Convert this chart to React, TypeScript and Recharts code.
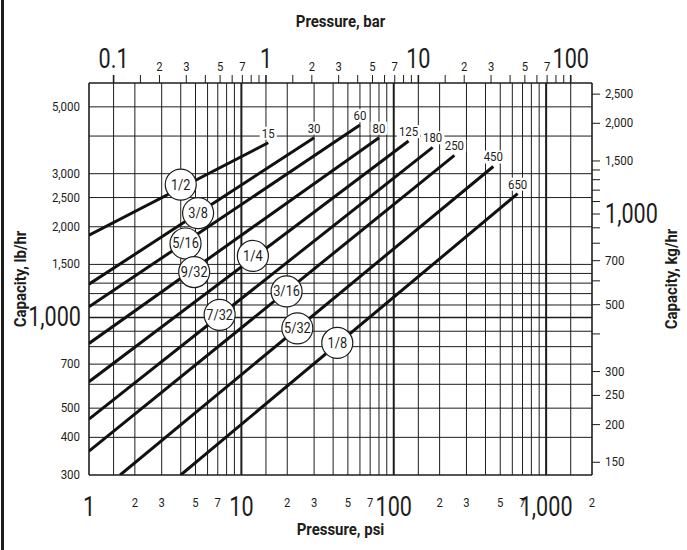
import React from "react";
import {
  ComposedChart,
  Line,
  XAxis,
  YAxis,
  ReferenceLine,
  ReferenceDot,
  Label,
} from "recharts";

const FONT = "Roboto, 'Liberation Sans', sans-serif";
const INK = "#1d1d1b";
const PSI_PER_BAR = 14.5;
const KG_PER_LB = 0.4536;

// orifice lines: start point, end point (max pressure) and badge position
const orifices = ["1/2", "3/8", "5/16", "9/32", "1/4", "7/32", "3/16", "5/32", "1/8"];
const startPsi = [1, 1, 1, 1, 1, 1, 1, 1.6, 4];
const startCap = [1875, 1290, 1085, 820, 612, 460, 360, 300, 300];
const maxPsi = [15, 30, 60, 80, 125, 180, 250, 450, 650];
const endCap = [3800, 3950, 4350, 3950, 3850, 3670, 3450, 3170, 2575];
const badgePsi = [4.0, 5.2, 4.3, 4.9, 11.9, 7.2, 19.8, 23.3, 42.6];
const badgeCap = [2760, 2220, 1760, 1415, 1600, 1020, 1220, 920, 823];

// grid
const psiGrid = [
  2, 3, 4, 5, 6, 7, 8, 9, 10, 20, 30, 40, 50, 60, 70, 80, 90, 100, 200, 300,
  400, 500, 600, 700, 800, 900, 1000,
];
const psiHeavy = [10, 100, 1000];
const barGrid = [0.1, 1, 10, 100];
const lbGrid = [
  400, 500, 600, 700, 800, 900, 1000, 1100, 1200, 1300, 1400, 1500, 2000, 2500,
  3000, 4000, 5000,
];

// axis ticks
const psiTicks = [1, 2, 3, 5, 7, 10, 20, 30, 50, 70, 100, 200, 300, 500, 700, 1000, 2000];
const psiMajor = [1, 10, 100, 1000];
const barTicks = [
  0.1, 0.15, 0.2, 0.3, 0.4, 0.5, 0.6, 0.7, 0.8, 0.9, 1, 1.5, 2, 3, 4, 5, 6, 7,
  8, 9, 10, 15, 20, 30, 40, 50, 60, 70, 80, 90, 100,
];
const barMajor = [0.1, 1, 10, 100];
const barLabelled = [0.2, 0.3, 0.5, 0.7, 2, 3, 5, 7, 20, 30, 50, 70];
const lbTicks = [300, 400, 500, 700, 1000, 1500, 2000, 2500, 3000, 5000];
const kgTicks = [
  150, 200, 250, 300, 400, 500, 600, 700, 800, 900, 1000, 1100, 1200, 1300,
  1400, 1500, 2000, 2500,
];
const kgLabelled = [150, 200, 250, 300, 500, 700, 1000, 1500, 2000, 2500];

const PSI_DOMAIN = [1, 2000];
const LB_DOMAIN = [300, 6000];
const BAR_DOMAIN = PSI_DOMAIN.map((p) => p / PSI_PER_BAR);

const leadDigit = (v: number) =>
  String(Math.round(v / Math.pow(10, Math.floor(Math.log10(v) + 1e-9))));
const fmt = (v: number) => v.toLocaleString("en-US");

// text squeezed horizontally to mimic the condensed face of the original
function SText({ x, y, sx = 1, rot = 0, size, bold, anchor = "middle", children }: any) {
  return (
    <text
      transform={`translate(${x} ${y}) rotate(${rot}) scale(${sx} 1)`}
      textAnchor={anchor}
      fontFamily={FONT}
      fontSize={size}
      fontWeight={bold ? 700 : 400}
      fill={INK}
    >
      {children}
    </text>
  );
}

function PsiTick({ x, y, payload }: any) {
  const v = payload.value;
  const major = psiMajor.includes(v);
  return major ? (
    <SText x={x} y={y + 41} size={27} sx={0.8}>
      {fmt(v)}
    </SText>
  ) : (
    <SText x={x} y={y + 32} size={12.5} sx={0.9}>
      {leadDigit(v)}
    </SText>
  );
}

function BarTick({ x, y, payload }: any) {
  const v = payload.value;
  const major = barMajor.includes(v);
  return (
    <g>
      <line x1={x} x2={x} y1={y} y2={y - 8} stroke={INK} strokeWidth={major ? 1.6 : 1} />
      {major && (
        <SText x={x} y={y - 15} size={27} sx={0.8}>
          {String(v)}
        </SText>
      )}
      {barLabelled.includes(v) && (
        <SText x={x} y={y - 12} size={12.5} sx={0.9}>
          {leadDigit(v)}
        </SText>
      )}
    </g>
  );
}

function LbTick({ x, y, payload }: any) {
  const v = payload.value;
  return v === 1000 ? (
    <SText x={x - 8} y={y + 9} size={27} sx={0.8} anchor="end">
      {fmt(v)}
    </SText>
  ) : (
    <SText x={x - 9} y={y + 4} size={12.5} sx={0.92} anchor="end">
      {fmt(v)}
    </SText>
  );
}

function KgTick({ x, y, payload }: any) {
  const v = payload.value;
  const big = v === 1000;
  return (
    <g>
      <line x1={x} x2={x + 8} y1={y} y2={y} stroke={INK} strokeWidth={1} />
      {kgLabelled.includes(v) && (
        <SText
          x={x + 13}
          y={y + (big ? 9 : 4)}
          size={big ? 27 : 12.5}
          sx={big ? 0.8 : 0.92}
          anchor="start"
        >
          {fmt(v)}
        </SText>
      )}
    </g>
  );
}

const TopTitle = ({ viewBox }: any) => (
  <SText x={viewBox.x + viewBox.width / 2} y={viewBox.y - 26} size={17} sx={0.88} bold>
    Pressure, bar
  </SText>
);
const BottomTitle = ({ viewBox }: any) => (
  <SText x={viewBox.x + viewBox.width / 2} y={viewBox.y + 60} size={17} sx={0.88} bold>
    Pressure, psi
  </SText>
);
const LeftTitle = ({ viewBox }: any) => (
  <SText x={26} y={viewBox.y + viewBox.height / 2} rot={-90} size={17} sx={0.88} bold>
    Capacity, lb/hr
  </SText>
);
const RightTitle = ({ viewBox }: any) => (
  <SText x={677} y={viewBox.y + viewBox.height / 2} rot={-90} size={17} sx={0.88} bold>
    Capacity, kg/hr
  </SText>
);

function Badge({ cx, cy, text }: any) {
  return (
    <g>
      <circle cx={cx} cy={cy} r={15.5} fill="#fff" stroke={INK} strokeWidth={1.2} />
      <SText x={cx} y={cy + 5} size={15} sx={0.85}>
        {text}
      </SText>
    </g>
  );
}

function EndTag({ cx, cy, text }: any) {
  const w = text.length * 6.5 + 4;
  return (
    <g>
      <rect x={cx - w / 2} y={cy - 16} width={w} height={13} fill="#fff" />
      <SText x={cx} y={cy - 5} size={13} sx={0.88}>
        {text}
      </SText>
    </g>
  );
}

export default function App() {
  const lines = orifices.map((name, i) => ({
    name,
    points: [
      { psi: startPsi[i], cap: startCap[i] },
      { psi: maxPsi[i], cap: endCap[i] },
    ],
  }));
  // invisible carrier so the bar axis has a domain to work with
  const barAxisRows = BAR_DOMAIN.map((bar) => ({ bar, cap: LB_DOMAIN[0] }));

  return (
    <div
      style={{
        position: "fixed",
        left: 0,
        top: 0,
        width: 687,
        height: 550,
        background: "#fff",
      }}
    >
      <div
        style={{ position: "absolute", left: 1, top: 0, width: 3, height: 550, background: INK }}
      />
      <ComposedChart
        width={687}
        height={550}
        margin={{ top: 53, right: 35, bottom: 45, left: 29 }}
      >
        <XAxis
          xAxisId="psi"
          dataKey="psi"
          type="number"
          scale="log"
          domain={PSI_DOMAIN}
          allowDataOverflow
          ticks={psiTicks}
          interval={0}
          height={30}
          axisLine={false}
          tickLine={false}
          tickSize={0}
          tickMargin={0}
          tick={<PsiTick />}
        >
          <Label content={BottomTitle} />
        </XAxis>
        <XAxis
          xAxisId="bar"
          dataKey="bar"
          orientation="top"
          type="number"
          scale="log"
          domain={BAR_DOMAIN}
          allowDataOverflow
          ticks={barTicks}
          interval={0}
          height={30}
          axisLine={false}
          tickLine={false}
          tickSize={0}
          tickMargin={0}
          tick={<BarTick />}
        >
          <Label content={TopTitle} />
        </XAxis>
        <YAxis
          yAxisId="lb"
          type="number"
          scale="log"
          domain={LB_DOMAIN}
          allowDataOverflow
          ticks={lbTicks}
          interval={0}
          width={60}
          axisLine={false}
          tickLine={false}
          tickSize={0}
          tickMargin={0}
          tick={<LbTick />}
        >
          <Label content={LeftTitle} />
        </YAxis>
        <YAxis
          yAxisId="kg"
          orientation="right"
          type="number"
          scale="log"
          domain={[LB_DOMAIN[0] * KG_PER_LB, LB_DOMAIN[1] * KG_PER_LB]}
          allowDataOverflow
          ticks={kgTicks}
          interval={0}
          width={60}
          axisLine={false}
          tickLine={false}
          tickSize={0}
          tickMargin={0}
          tick={<KgTick />}
        >
          <Label content={RightTitle} />
        </YAxis>

        {psiGrid.map((v) => (
          <ReferenceLine
            key={`px${v}`}
            xAxisId="psi"
            yAxisId="lb"
            x={v}
            stroke={INK}
            strokeWidth={psiHeavy.includes(v) ? 2 : 1}
          />
        ))}
        {barGrid.map((v) => (
          <ReferenceLine
            key={`bx${v}`}
            xAxisId="psi"
            yAxisId="lb"
            x={v * PSI_PER_BAR}
            stroke={INK}
            strokeWidth={1}
          />
        ))}
        {lbGrid.map((v) => (
          <ReferenceLine
            key={`ly${v}`}
            xAxisId="psi"
            yAxisId="lb"
            y={v}
            stroke={INK}
            strokeWidth={v === 1000 ? 1.5 : 1}
          />
        ))}
        {PSI_DOMAIN.map((v) => (
          <ReferenceLine key={`edge-x${v}`} xAxisId="psi" yAxisId="lb" x={v} stroke={INK} strokeWidth={1.6} />
        ))}
        {LB_DOMAIN.map((v) => (
          <ReferenceLine key={`edge-y${v}`} xAxisId="psi" yAxisId="lb" y={v} stroke={INK} strokeWidth={1.6} />
        ))}

        <Line
          xAxisId="bar"
          yAxisId="lb"
          data={barAxisRows}
          dataKey="cap"
          stroke="none"
          dot={false}
          activeDot={false}
          isAnimationActive={false}
        />
        {lines.map((l) => (
          <Line
            key={l.name}
            xAxisId="psi"
            yAxisId="lb"
            data={l.points}
            dataKey="cap"
            type="linear"
            stroke="#111"
            strokeWidth={3}
            dot={false}
            activeDot={false}
            isAnimationActive={false}
          />
        ))}

        {orifices.map((name, i) => (
          <ReferenceDot
            key={`end${name}`}
            xAxisId="psi"
            yAxisId="lb"
            x={maxPsi[i]}
            y={endCap[i]}
            shape={(p: any) => <EndTag cx={p.cx} cy={p.cy} text={String(maxPsi[i])} />}
          />
        ))}
        {orifices.map((name, i) => (
          <ReferenceDot
            key={`badge${name}`}
            xAxisId="psi"
            yAxisId="lb"
            x={badgePsi[i]}
            y={badgeCap[i]}
            shape={(p: any) => <Badge cx={p.cx} cy={p.cy} text={name} />}
          />
        ))}
      </ComposedChart>
    </div>
  );
}
